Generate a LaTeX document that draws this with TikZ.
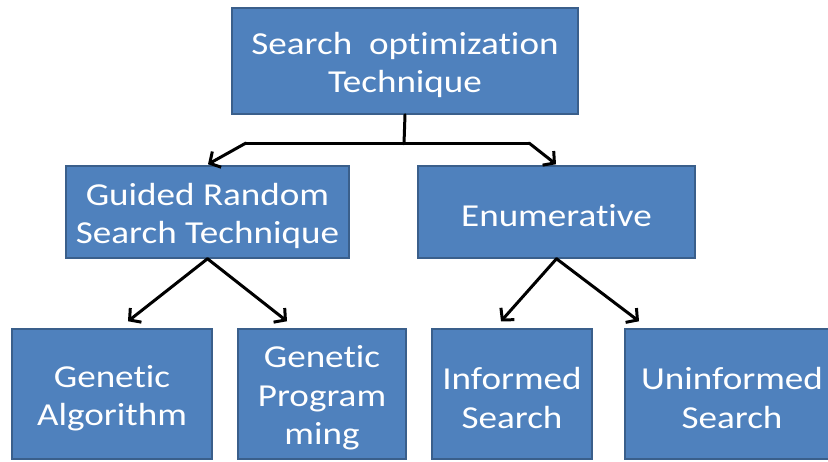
\documentclass[tikz,border=0pt]{standalone}
\usepackage{fontspec}
\setmainfont{Carlito}[FakeStretch=1.16, Ligatures=NoCommon]
\usetikzlibrary{arrows.meta,calc}
\definecolor{boxfill}{HTML}{4F81BD}
\definecolor{boxline}{HTML}{3A5F8B}
\newcommand\dnstrut{\rule{0pt}{30pt}}
\begin{document}
\begin{tikzpicture}[x=1pt,y=-1pt,
  box/.style={draw=boxline, fill=boxfill, line width=1.5pt, text=white, align=center,
    font=\fontsize{32}{38.5}\selectfont, inner sep=0pt},
  conn/.style={line width=3pt, line cap=round, line join=round},
  arr/.style={conn, -{Straight Barb[length=8pt,width=18pt,line width=3pt]}}]
\clip (0,0) rectangle (828,461);
\fill[white] (0,0) rectangle (828,461);
\node[box, minimum width=346pt, minimum height=106pt] (top) at (405,61) {\dnstrut Search\ \ optimization\\Technique};
\node[box, minimum width=283pt, minimum height=92pt] (guided) at (207.5,212) {\dnstrut Guided Random\\Search Technique};
\node[box, minimum width=277pt, minimum height=92pt] (enum) at (556.5,212) {\dnstrut Enumerative};
\node[box, minimum width=200pt, minimum height=130pt] (ga) at (112,394) {\dnstrut Genetic\\Algorithm};
\node[box, minimum width=168pt, minimum height=130pt] (gp) at (322,394) {\dnstrut Genetic\\Program\\ming};
\node[box, minimum width=160pt, minimum height=130pt] (inf) at (512,394) {\dnstrut Informed\\Search};
\node[box, minimum width=214pt, minimum height=130pt] (uninf) at (732,394) {\dnstrut Uninformed\\Search};
\coordinate (j) at ($(top.south)+(-1,29)$);
\coordinate (jl) at (246,143);
\coordinate (jr) at (529,143);
\draw[conn] (top.south) -- (j);
\draw[conn] (jl) -- (jr);
\draw[arr] (jl) -- ($(guided.north)+(0.5,-1)$);
\draw[arr] (jr) -- ($(enum.north)+(-0.5,-1)$);
\draw[arr] (guided.south) -- ($(ga.north)+(16,-7)$);
\draw[arr] (guided.south) -- ($(gp.north)+(-35,-7)$);
\draw[arr] (enum.south) -- ($(inf.north)+(-11,-7)$);
\draw[arr] (enum.south) -- ($(uninf.north)+(-93,-7)$);
\end{tikzpicture}
\end{document}
